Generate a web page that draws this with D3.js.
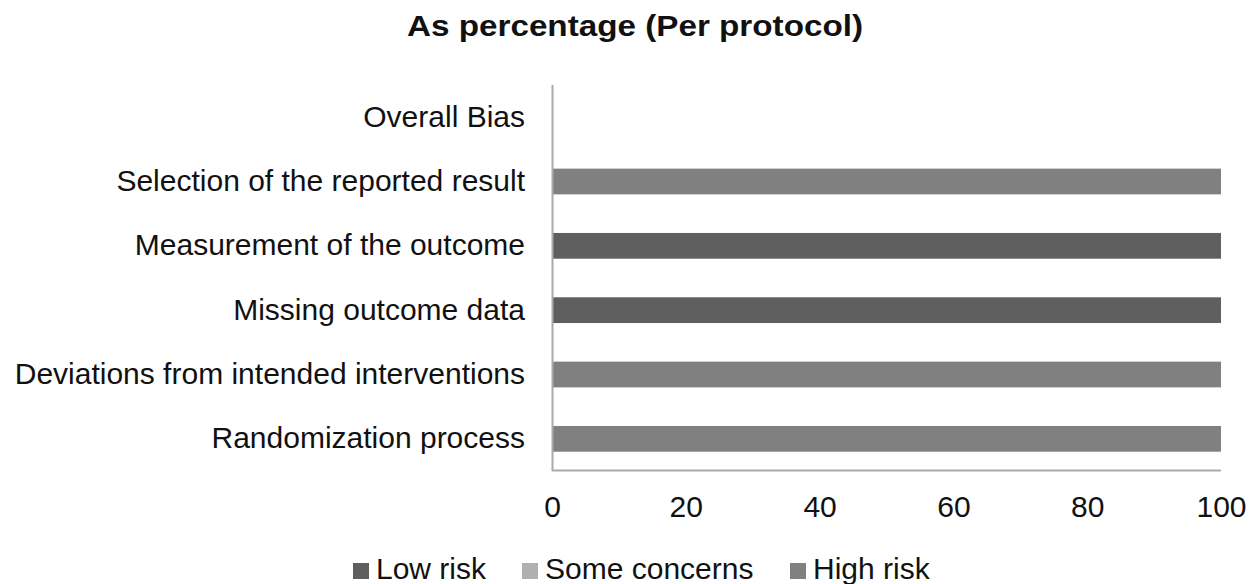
<!DOCTYPE html>
<html><head><meta charset="utf-8">
<script src="https://cdn.jsdelivr.net/npm/d3@7"></script>
<style>body{margin:0;background:#fff}text{font-family:"Liberation Sans",Arial,sans-serif}</style>
</head><body><svg id="c" width="1255" height="584"></svg>
<script>
const categories = ["Overall Bias","Selection of the reported result","Measurement of the outcome","Missing outcome data","Deviations from intended interventions","Randomization process"];
const seriesNames = ["Low risk","Some concerns","High risk"];
const lowRisk = [0,0,100,100,0,0];
const someConcerns = [0,0,0,0,0,0];
const highRisk = [0,100,0,0,100,100];
const xTicks = [0,20,40,60,80,100];
const colors = ["#5f5f5f","#b0b0b0","#808080"];

const svg = d3.select("#c");
const x = d3.scaleLinear().domain([0,100]).range([552,1221]);
const y = d3.scaleBand().domain(categories).range([85,471]).paddingInner(0.6).paddingOuter(0.3);
const rows = categories.map((c,i)=>({cat:c, "Low risk":lowRisk[i], "Some concerns":someConcerns[i], "High risk":highRisk[i]}));
const stack = d3.stack().keys(seriesNames)(rows);

svg.append("text").attr("x",635).attr("y",36).attr("text-anchor","middle")
  .attr("font-size",29).attr("font-weight","bold").attr("fill","#111")
  .attr("textLength",456).attr("lengthAdjust","spacingAndGlyphs")
  .text("As percentage (Per protocol)");

stack.forEach((s,si)=>{
  svg.append("g").selectAll("rect").data(s).join("rect")
    .attr("x",d=>x(d[0])).attr("width",d=>x(d[1])-x(d[0]))
    .attr("y",d=>y(d.data.cat)).attr("height",y.bandwidth())
    .attr("fill",colors[si]);
});

svg.append("line").attr("x1",552.5).attr("x2",552.5).attr("y1",85).attr("y2",471).attr("stroke","#aaa").attr("stroke-width",2);
svg.append("line").attr("x1",552).attr("x2",1221).attr("y1",470.5).attr("y2",470.5).attr("stroke","#aaa").attr("stroke-width",2);

const yAxis = svg.append("g").attr("transform","translate(552,0)").call(d3.axisLeft(y).tickSize(0).tickPadding(27));
yAxis.select(".domain").remove();
yAxis.selectAll("text").attr("font-size",30).attr("fill","#111").attr("font-family","Liberation Sans, Arial, sans-serif");

const xAxis = svg.append("g").attr("transform","translate(0,471)").call(d3.axisBottom(x).tickValues(xTicks).tickSize(0).tickPadding(25));
xAxis.select(".domain").remove();
xAxis.selectAll("text").attr("font-size",30).attr("fill","#111").attr("font-family","Liberation Sans, Arial, sans-serif");

const legX = [353,522,790];
const lg = svg.append("g");
seriesNames.forEach((n,i)=>{
  lg.append("rect").attr("x",legX[i]).attr("y",563).attr("width",16).attr("height",16).attr("fill",colors[i]);
  lg.append("text").attr("x",legX[i]+23).attr("y",579).attr("font-size",30).attr("fill","#111").text(n);
});
</script></body></html>
